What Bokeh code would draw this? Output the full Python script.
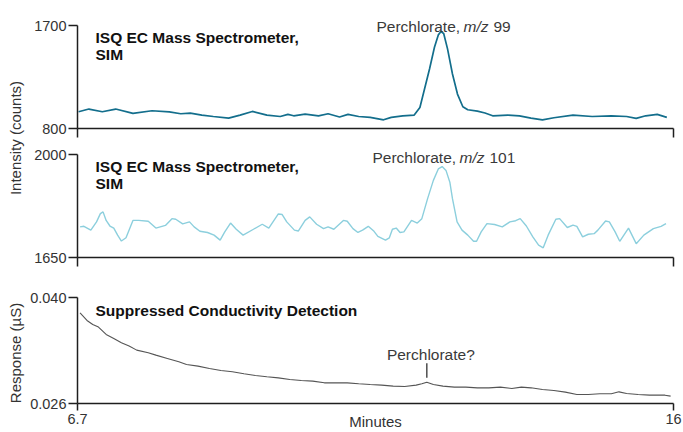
import math
from bokeh.plotting import figure
from bokeh.models import Range1d, FixedTicker, NumeralTickFormatter, Label, CustomLabelingPolicy
from bokeh.layouts import row, column
from bokeh.embed import file_html
from bokeh.resources import INLINE

# ---------------- data ----------------
ms99_time = [6.717, 6.878, 7.087, 7.296, 7.565, 7.863, 8.132, 8.311, 8.460, 8.640,
             8.819, 9.058, 9.237, 9.428, 9.655, 9.864, 9.983, 10.073, 10.252, 10.461,
             10.610, 10.789, 10.921, 11.088, 11.267, 11.476, 11.596, 11.775, 11.954, 12.043,
             12.115, 12.193, 12.270, 12.330, 12.372, 12.414, 12.474, 12.551, 12.629, 12.713,
             12.790, 12.940, 13.059, 13.178, 13.417, 13.596, 13.776, 13.955, 14.134, 14.432,
             14.731, 15.030, 15.268, 15.418, 15.567, 15.746, 15.896]
ms99_counts = [946, 970, 946, 970, 932, 955, 946, 929, 935, 917,
               905, 891, 917, 949, 917, 905, 923, 911, 926, 911,
               929, 900, 923, 905, 897, 876, 897, 911, 917, 984,
               1145, 1320, 1510, 1618, 1647, 1630, 1496, 1276, 1101, 990,
               964, 952, 935, 911, 917, 911, 891, 876, 894, 917,
               905, 911, 905, 888, 911, 923, 897]

ms101_time = [6.740, 6.800, 6.908, 6.997, 7.057, 7.099, 7.147, 7.206, 7.266, 7.326,
              7.385, 7.457, 7.565, 7.654, 7.804, 7.923, 8.072, 8.174, 8.233, 8.341,
              8.448, 8.520, 8.610, 8.729, 8.831, 8.926, 8.998, 9.088, 9.177, 9.284,
              9.446, 9.583, 9.685, 9.834, 9.894, 9.965, 10.085, 10.145, 10.252, 10.324,
              10.431, 10.539, 10.610, 10.700, 10.849, 10.909, 10.998, 11.076, 11.148, 11.237,
              11.327, 11.387, 11.506, 11.566, 11.614, 11.673, 11.733, 11.793, 11.912, 12.002,
              12.073, 12.163, 12.253, 12.330, 12.390, 12.450, 12.510, 12.551, 12.623, 12.700,
              12.790, 12.880, 12.927, 12.999, 13.089, 13.208, 13.328, 13.447, 13.537, 13.608,
              13.704, 13.805, 13.895, 13.967, 14.044, 14.164, 14.223, 14.343, 14.432, 14.492,
              14.582, 14.671, 14.761, 14.820, 14.940, 14.999, 15.089, 15.161, 15.298, 15.418,
              15.537, 15.686, 15.806, 15.883]
ms101_counts = [1754, 1756, 1743, 1771, 1799, 1805, 1776, 1757, 1750, 1726,
                1706, 1717, 1776, 1776, 1773, 1750, 1759, 1782, 1780, 1764,
                1771, 1754, 1739, 1735, 1726, 1709, 1737, 1767, 1746, 1726,
                1746, 1763, 1750, 1798, 1796, 1771, 1743, 1740, 1776, 1788,
                1763, 1748, 1754, 1746, 1776, 1773, 1748, 1735, 1743, 1756,
                1739, 1722, 1709, 1717, 1746, 1750, 1735, 1737, 1776, 1767,
                1782, 1850, 1912, 1951, 1959, 1946, 1906, 1850, 1771, 1743,
                1726, 1705, 1705, 1737, 1765, 1762, 1754, 1771, 1775, 1782,
                1757, 1720, 1692, 1683, 1726, 1780, 1782, 1752, 1760, 1756,
                1720, 1729, 1731, 1743, 1774, 1771, 1737, 1705, 1750, 1697,
                1726, 1748, 1756, 1765]

cd_time = [6.740, 6.848, 6.938, 7.027, 7.147, 7.266, 7.385, 7.505, 7.624, 7.804,
           7.923, 8.102, 8.281, 8.401, 8.580, 8.759, 8.938, 9.117, 9.297, 9.476,
           9.655, 9.834, 10.013, 10.192, 10.371, 10.551, 10.730, 10.909, 11.088, 11.267,
           11.446, 11.626, 11.805, 11.984, 12.073, 12.151, 12.253, 12.402, 12.581, 12.760,
           12.939, 13.119, 13.298, 13.477, 13.626, 13.776, 13.955, 14.134, 14.313, 14.492,
           14.671, 14.851, 15.030, 15.149, 15.268, 15.448, 15.627, 15.746, 15.866, 15.955]
cd_response = [0.03798, 0.03697, 0.03644, 0.03609, 0.03512, 0.03459, 0.03402, 0.03358, 0.03305, 0.03270,
               0.03239, 0.03195, 0.03151, 0.03115, 0.03094, 0.03063, 0.03036, 0.03019, 0.02992, 0.02970,
               0.02953, 0.02939, 0.02917, 0.02904, 0.02895, 0.02873, 0.02873, 0.02873, 0.02860, 0.02851,
               0.02843, 0.02829, 0.02825, 0.02843, 0.02860, 0.02882, 0.02851, 0.02829, 0.02816, 0.02816,
               0.02807, 0.02807, 0.02816, 0.02798, 0.02816, 0.02807, 0.02785, 0.02772, 0.02750, 0.02719,
               0.02719, 0.02728, 0.02728, 0.02754, 0.02732, 0.02719, 0.02710, 0.02710, 0.02710, 0.02697]

x_ticks = [6.7, 16.0]
x_tick_labels = ["6.7", "16"]
ms99_ticks = [800, 1700]
ms101_ticks = [1650, 2000]
cd_ticks = [0.026, 0.040]

ms_title = ["ISQ EC Mass Spectrometer,", "SIM"]
cd_title = "Suppressed Conductivity Detection"
ms99_note = ["Perchlorate,", "m/z", "99"]
ms101_note = ["Perchlorate,", "m/z", "101"]
cd_note = "Perchlorate?"
x_label = "Minutes"
y_label_ms = "Intensity (counts)"
y_label_cd = "Response (\u00b5S)"

# ---------------- styling / geometry ----------------
FONT = "Liberation Sans"
TICK_FS = "14.5px"
TEXT_FS = "15.5px"
AX_FS = "15px"
AXIS_COLOR = "#1e1e1e"
TICK_TXT = "#333333"
NOTE_TXT = "#3a3a3a"
TITLE_TXT = "#111111"

TOTAL_W, TOTAL_H = 683, 432
SIDE_W = 26
MAIN_W = TOTAL_W - SIDE_W
FL, FR = 77.0, 673.0          # frame left / right (page px)
BORDER_L = int(FL - SIDE_W)
BORDER_R = int(MAIN_W - BORDER_L - (FR - FL))
X0, X1 = x_ticks[0], x_ticks[-1]
PX_PER_X = (FR - FL) / (X1 - X0)


def xd(px):
    return X0 + (px - FL) / PX_PER_X


def make_panel(height, border_bottom, y_lo, y_hi, py_lo, py_hi, py_top, xtick_out, yticks, show_x_labels):
    s = (y_hi - y_lo) / (py_lo - py_hi)
    y_end = y_hi + (py_hi - py_top) * s
    p = figure(width=MAIN_W, height=height,
               x_range=Range1d(X0, X1), y_range=Range1d(y_lo, y_end),
               toolbar_location=None, output_backend="svg", title=None,
               min_border_left=BORDER_L, min_border_right=BORDER_R,
               min_border_top=0, min_border_bottom=border_bottom,
               outline_line_color=None, background_fill_color="white", border_fill_color="white")
    p.xgrid.visible = False
    p.ygrid.visible = False
    for ax in (p.xaxis[0], p.yaxis[0]):
        ax.axis_line_color = AXIS_COLOR
        ax.axis_line_width = 1.5
        ax.major_tick_line_color = AXIS_COLOR
        ax.major_tick_line_width = 1.5
        ax.major_tick_in = 0
        ax.minor_tick_in = 0
        ax.minor_tick_out = 0
        ax.major_label_text_font = FONT
        ax.major_label_text_font_size = TICK_FS
        ax.major_label_text_color = TICK_TXT
    xa = p.xaxis[0]
    xa.ticker = FixedTicker(ticks=x_ticks)
    xa.major_tick_out = xtick_out
    if show_x_labels:
        xa.major_label_overrides = dict(zip(x_ticks, x_tick_labels))
        xa.major_label_standoff = 3
    else:
        xa.major_label_policy = CustomLabelingPolicy(code="return []")
        xa.major_label_text_font_size = "1px"
        xa.major_label_standoff = 0
    ya = p.yaxis[0]
    ya.ticker = FixedTicker(ticks=yticks)
    ya.bounds = (yticks[0], yticks[-1])
    ya.major_tick_out = 9
    ya.major_label_standoff = 2

    def yd(py):
        return y_lo + (py_lo - py) * s
    return p, yd


def add_label(p, x, y, text, size=TEXT_FS, style="normal", color=NOTE_TXT, align="left",
              baseline="alphabetic", angle=0.0, x_offset=0):
    p.add_layout(Label(x=x, y=y, text=text, text_font=FONT, text_font_size=size,
                       text_font_style=style, text_color=color, text_align=align,
                       text_baseline=baseline, angle=angle, x_offset=x_offset))


def add_note(p, x, y, parts):
    # "Perchlorate, m/z NN" with italic m/z
    add_label(p, x, y, parts[0])
    add_label(p, x, y, parts[1], style="italic", x_offset=87)
    add_label(p, x, y, parts[2], x_offset=117)


# ---------------- panel 1: m/z 99 ----------------
p1, yd1 = make_panel(145, 17, ms99_ticks[0], ms99_ticks[-1], 128, 25, 0, 9, ms99_ticks, False)
p1.line(ms99_time, ms99_counts, line_color="#136e8c", line_width=1.7)
add_label(p1, xd(95), yd1(36.7), ms_title[0], style="bold", color=TITLE_TXT)
add_label(p1, xd(95), yd1(54.3), ms_title[1], style="bold", color=TITLE_TXT)
add_note(p1, xd(376), yd1(26), ms99_note)

# ---------------- panel 2: m/z 101 ----------------
p2, yd2 = make_panel(125, 13, ms101_ticks[0], ms101_ticks[-1], 257, 154, 145, 9, ms101_ticks, False)
p2.line(ms101_time, ms101_counts, line_color="#8ccfdd", line_width=1.4)
add_label(p2, xd(95), yd2(166), ms_title[0], style="bold", color=TITLE_TXT)
add_label(p2, xd(95), yd2(182.7), ms_title[1], style="bold", color=TITLE_TXT)
add_note(p2, xd(372), yd2(157.3), ms101_note)

# ---------------- panel 3: conductivity ----------------
p3, yd3 = make_panel(162, 29, cd_ticks[0], cd_ticks[-1], 403, 297, 270, 7, cd_ticks, True)
p3.yaxis[0].formatter = NumeralTickFormatter(format="0.000")
p3.line(cd_time, cd_response, line_color="#555555", line_width=1.1)
add_label(p3, xd(95), yd3(310), cd_title, style="bold", color=TITLE_TXT)

# x axis title, drawn on the same line as the tick labels
xa3 = p3.xaxis[0]
xa3.axis_label = x_label
xa3.axis_label_text_font = FONT
xa3.axis_label_text_font_size = AX_FS
xa3.axis_label_text_font_style = "normal"
xa3.axis_label_text_color = TICK_TXT
xa3.axis_label_standoff = -14

# marker for the small conductivity bump
win = [i for i, t in enumerate(cd_time) if 12.0 <= t <= 12.3]
ip = max(win, key=lambda i: cd_response[i])
s3 = (cd_ticks[-1] - cd_ticks[0]) / (403 - 297)
p3.segment(x0=[cd_time[ip]], y0=[cd_response[ip] + 4.5 * s3], x1=[cd_time[ip]],
           y1=[cd_response[ip] + 19 * s3], line_color="#333333", line_width=1.3)
add_label(p3, cd_time[ip], yd3(354), cd_note, align="center", x_offset=4)

# ---------------- side strip with the y-axis titles ----------------
side = figure(width=SIDE_W, height=TOTAL_H, x_range=Range1d(0, SIDE_W), y_range=Range1d(TOTAL_H, 0),
              toolbar_location=None, output_backend="svg", title=None,
              x_axis_type=None, y_axis_type=None, min_border=0,
              outline_line_color=None, background_fill_color="white", border_fill_color="white")
side.grid.visible = False
add_label(side, 15, 137.5, y_label_ms, size=AX_FS, color=TICK_TXT, align="center",
          baseline="middle", angle=math.pi / 2)
add_label(side, 15, 352.5, y_label_cd, size=AX_FS, color=TICK_TXT, align="center",
          baseline="middle", angle=math.pi / 2)

layout = row(side, column(p1, p2, p3, spacing=0), spacing=0)

open("out.html", "w").write(file_html(layout, INLINE))
